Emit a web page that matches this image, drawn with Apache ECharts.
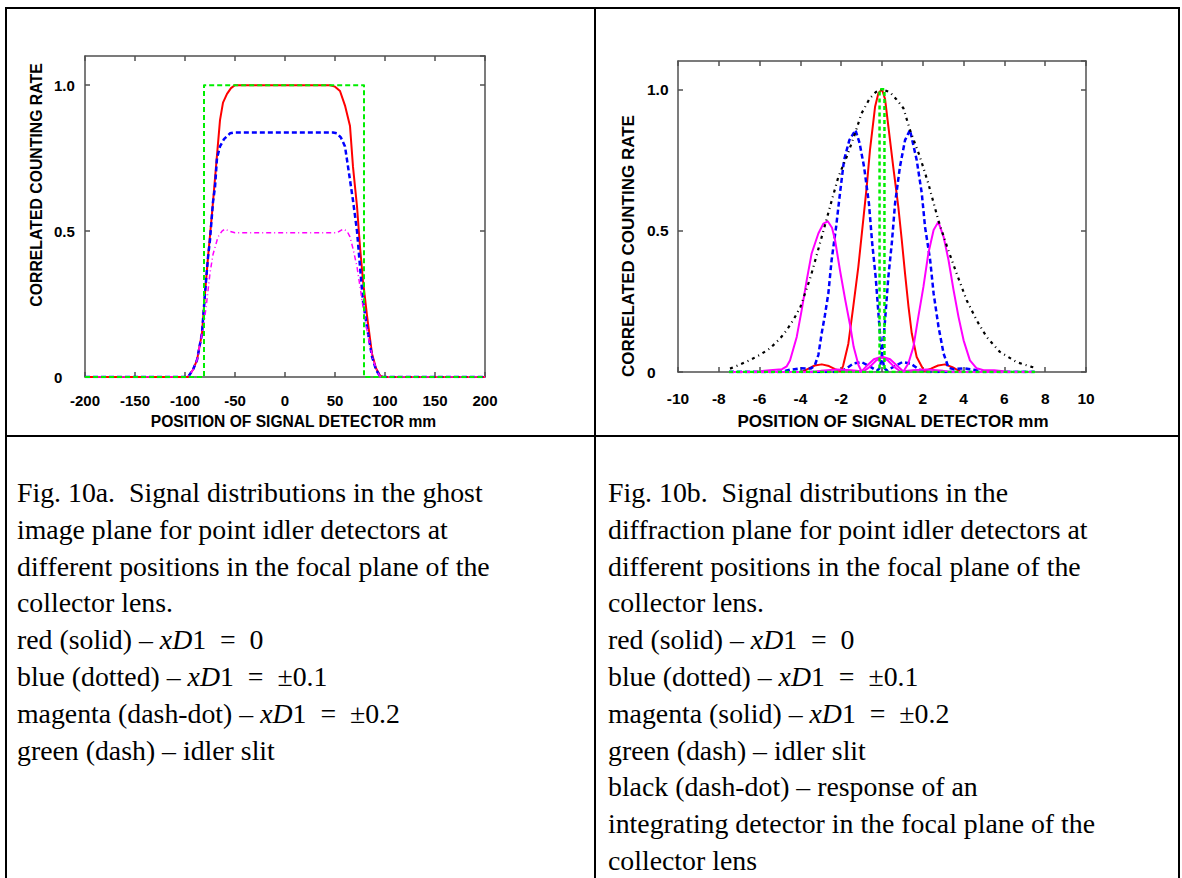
<!DOCTYPE html>
<html>
<head>
<meta charset="utf-8">
<script src="https://cdn.jsdelivr.net/npm/echarts@6/dist/echarts.min.js"></script>
<style>
  html, body { margin: 0; padding: 0; background: #fff; }
  #wrap { position: relative; width: 1182px; height: 878px; overflow: hidden; }
  #chart { position: absolute; left: 0; top: 0; width: 1182px; height: 878px; }
  .bl { position: absolute; background: #000; }
  .cap { position: absolute; top: 475px; font-family: "Liberation Serif", "Times New Roman", serif;
         font-size: 27.8px; line-height: 36.8px; color: #000; white-space: nowrap; }
  .cap i { font-style: italic; }
</style>
</head>
<body>
<div id="wrap">
  <div id="chart"></div>
  <div class="bl" style="left:5px; top:7px; width:2px; height:871px;"></div>
  <div class="bl" style="left:1178px; top:7px; width:2px; height:871px;"></div>
  <div class="bl" style="left:5px; top:7px; width:1175px; height:2px;"></div>
  <div class="bl" style="left:594px; top:7px; width:2px; height:871px;"></div>
  <div class="bl" style="left:5px; top:435px; width:1175px; height:2px;"></div>
  <div class="cap" id="capA" style="left:17px;"></div>
  <div class="cap" id="capB" style="left:608px;"></div>
</div>
<script>
// ---------------- DATA ----------------
// Fig. 10a (ghost image plane), x in mm
const leftXTicks = [-200, -150, -100, -50, 0, 50, 100, 150, 200];
const yTickValues = [0, 0.5, 1.0];
const yTickText = ['0', '0.5', '1.0'];

const leftRed = [[-200,0],[-97,0],[-92,0.025],[-88,0.058],[-83,0.15],[-80,0.287],[-77,0.41],[-73,0.56],[-69,0.72],[-65,0.88],[-62,0.94],[-58,0.97],[-54,0.99],[-50,1.0],[45,1.0],[50,0.995],[55,0.98],[60,0.93],[65,0.86],[68,0.72],[72,0.585],[75,0.446],[78,0.33],[82,0.21],[87,0.08],[91,0.03],[95,0.005],[98,0],[200,0]];
const leftBlue = [[-200,0],[-97,0],[-92,0.025],[-88,0.058],[-83,0.15],[-80,0.287],[-77,0.41],[-75,0.47],[-72,0.6],[-70,0.65],[-68,0.75],[-65,0.79],[-61,0.815],[-55,0.835],[-50,0.838],[48,0.838],[52,0.835],[56,0.82],[60,0.79],[65,0.675],[68,0.605],[72,0.5],[75,0.378],[78,0.26],[82,0.17],[87,0.07],[91,0.025],[95,0.003],[98,0],[200,0]];
const leftMagenta = [[-200,0],[-97,0],[-92,0.025],[-88,0.058],[-84,0.13],[-81,0.185],[-78,0.265],[-75,0.356],[-72,0.42],[-67,0.48],[-63,0.5],[-60,0.507],[-56,0.5],[-50,0.494],[52,0.494],[58,0.507],[62,0.5],[65,0.48],[68,0.44],[72,0.378],[75,0.31],[78,0.24],[83,0.14],[88,0.06],[92,0.02],[95,0.003],[98,0],[200,0]];
const leftGreen = [[-200,0],[-81,0],[-81,1.0],[79,1.0],[79,0],[200,0]];

// Fig. 10b (diffraction plane), x in mm
const rightXTicks = [-10, -8, -6, -4, -2, 0, 2, 4, 6, 8, 10];

const rightRed = [[-7.5,0],[-3.93,0],[-3.6,0.012],[-3.3,0.023],[-2.95,0.027],[-2.6,0.021],[-2.3,0.01],[-2.0,0.002],[-1.9,0.024],[-1.65,0.1],[-1.41,0.23],[-1.16,0.372],[-0.92,0.537],[-0.75,0.655],[-0.59,0.785],[-0.34,0.938],[-0.18,0.985],[0,1.0],[0.15,0.965],[0.31,0.87],[0.56,0.72],[0.8,0.584],[0.97,0.466],[1.13,0.348],[1.3,0.23],[1.46,0.136],[1.7,0.053],[1.96,0.018],[2.05,0.003],[2.4,0.012],[2.75,0.023],[3.09,0.027],[3.45,0.017],[3.82,0.002],[4.0,0],[7.5,0]];
const rightBlueA = [[-7.5,0],[-5.0,0],[-4.5,0.008],[-4.0,0.013],[-3.5,0.012],[-3.3,0.022],[-3.12,0.06],[-2.95,0.14],[-2.8,0.2],[-2.63,0.278],[-2.47,0.396],[-2.25,0.513],[-2.06,0.632],[-1.86,0.75],[-1.6,0.82],[-1.3,0.856],[-1.1,0.81],[-0.88,0.726],[-0.64,0.596],[-0.48,0.455],[-0.31,0.336],[-0.15,0.183],[-0.03,0.077],[0.1,0.015],[0.25,0.004],[0.6,0.02],[1.0,0.035],[1.4,0.03],[1.8,0.01],[2.1,0],[7.5,0]];
const rightBlueB = [[-7.5,0],[-2.1,0],[-1.8,0.01],[-1.4,0.03],[-1.0,0.035],[-0.6,0.02],[-0.25,0.004],[-0.1,0.015],[0.03,0.077],[0.15,0.183],[0.31,0.336],[0.48,0.455],[0.64,0.596],[0.88,0.726],[1.13,0.82],[1.37,0.856],[1.7,0.75],[1.95,0.632],[2.11,0.513],[2.36,0.396],[2.53,0.278],[2.77,0.16],[3.02,0.065],[3.26,0.015],[3.5,0.01],[4.0,0.013],[4.5,0.008],[5.0,0],[7.5,0]];
const rightMagentaA = [[-7.5,0],[-6.3,0],[-5.5,0.006],[-4.9,0.01],[-4.67,0.02],[-4.51,0.041],[-4.18,0.124],[-3.94,0.218],[-3.69,0.325],[-3.45,0.419],[-3.12,0.49],[-2.87,0.525],[-2.66,0.533],[-2.45,0.51],[-2.3,0.466],[-2.06,0.36],[-1.8,0.254],[-1.55,0.16],[-1.39,0.089],[-1.15,0.024],[-1.0,0.002],[-0.7,0.025],[-0.4,0.045],[-0.05,0.053],[0.3,0.04],[0.6,0.018],[0.9,0.002],[1.5,0.006],[2.2,0.009],[3.0,0.004],[3.5,0],[7.5,0]];
const rightMagentaB = [[-7.5,0],[-3.5,0],[-3.0,0.004],[-2.2,0.009],[-1.5,0.006],[-0.9,0.002],[-0.6,0.018],[-0.3,0.04],[0.05,0.053],[0.4,0.045],[0.7,0.025],[1.05,0.002],[1.29,0.03],[1.54,0.089],[1.78,0.195],[2.03,0.301],[2.27,0.419],[2.53,0.502],[2.76,0.531],[3.02,0.478],[3.26,0.396],[3.51,0.289],[3.75,0.195],[4.0,0.112],[4.31,0.041],[4.64,0.013],[4.98,0.006],[5.5,0.006],[6.3,0],[7.5,0]];
const rightBlack = [[-7.45,0.012],[-7.0,0.025],[-6.5,0.041],[-6.0,0.06],[-5.5,0.083],[-5.0,0.118],[-4.67,0.148],[-4.3,0.19],[-4.0,0.23],[-3.5,0.336],[-3.0,0.466],[-2.55,0.584],[-2.14,0.69],[-1.73,0.761],[-1.32,0.844],[-1.0,0.915],[-0.6,0.968],[-0.3,0.99],[0,1.0],[0.39,0.99],[0.7,0.965],[1.05,0.933],[1.37,0.856],[1.86,0.761],[2.27,0.667],[2.76,0.537],[3.19,0.443],[3.66,0.348],[4.15,0.254],[4.64,0.183],[5.13,0.124],[5.78,0.071],[6.6,0.035],[7.34,0.018],[7.5,0.015]];
const rightGreen = [[-7.5,0],[-0.12,0],[-0.12,1.0],[0.12,1.0],[0.12,0],[7.5,0]];

const yAxisTitle = 'CORRELATED COUNTING RATE';
const xAxisTitle = 'POSITION OF SIGNAL DETECTOR mm';

const captionA = [
  'Fig. 10a.&nbsp; Signal distributions in the ghost',
  'image plane for point idler detectors at',
  'different positions in the focal plane of the',
  'collector lens.',
  'red (solid) \u2013 <i>xD</i>1 &nbsp;= &nbsp;0',
  'blue (dotted) \u2013 <i>xD</i>1 &nbsp;= &nbsp;\u00b10.1',
  'magenta (dash-dot) \u2013 <i>xD</i>1 &nbsp;= &nbsp;\u00b10.2',
  'green (dash) \u2013 idler slit'
];
const captionB = [
  'Fig. 10b.&nbsp; Signal distributions in the',
  'diffraction plane for point idler detectors at',
  'different positions in the focal plane of the',
  'collector lens.',
  'red (solid) \u2013 <i>xD</i>1 &nbsp;= &nbsp;0',
  'blue (dotted) \u2013 <i>xD</i>1 &nbsp;= &nbsp;\u00b10.1',
  'magenta (solid) \u2013 <i>xD</i>1 &nbsp;= &nbsp;\u00b10.2',
  'green (dash) \u2013 idler slit',
  'black (dash-dot) \u2013 response of an',
  'integrating detector in the focal plane of the',
  'collector lens'
];
document.getElementById('capA').innerHTML = captionA.join('<br>');
document.getElementById('capB').innerHTML = captionB.join('<br>');

// ---------------- CHART ----------------
const AX = '#505050';
const FONT = '"Liberation Sans", Arial, sans-serif';

function yFmt(v) {
  const i = yTickValues.findIndex(t => Math.abs(t - v) < 1e-9);
  return i >= 0 ? yTickText[i] : '';
}

function xAxes(gi, min, max, interval, fs, margin) {
  const common = {
    gridIndex: gi, type: 'value', min: min, max: max, interval: interval,
    axisLine: { show: true, onZero: false, lineStyle: { color: AX, width: 1.5 } },
    axisTick: { show: true, inside: true, length: 5, lineStyle: { color: AX, width: 1.5 } },
    splitLine: { show: false }
  };
  return [
    Object.assign({}, common, { position: 'bottom',
      axisLabel: { show: true, margin: margin, fontFamily: FONT, fontWeight: 'bold', fontSize: fs, color: '#000',
                   showMinLabel: true, showMaxLabel: true } }),
    Object.assign({}, common, { position: 'top', axisLabel: { show: false } })
  ];
}
function yAxes(gi, fs) {
  const common = {
    gridIndex: gi, type: 'value', min: 0, max: 1.1, interval: 0.5,
    axisLine: { show: true, onZero: false, lineStyle: { color: AX, width: 1.5 } },
    axisTick: { show: true, inside: true, length: 5, lineStyle: { color: AX, width: 1.5 } },
    splitLine: { show: false }
  };
  return [
    Object.assign({}, common, { position: 'left',
      axisLabel: { show: true, align: 'left', margin: 31, formatter: yFmt, fontFamily: FONT,
                   fontWeight: 'bold', fontSize: fs, color: '#000', showMaxLabel: false } }),
    Object.assign({}, common, { position: 'right', axisLabel: { show: false } })
  ];
}

function line(name, data, xi, yi, color, width, type) {
  return {
    name: name, type: 'line', data: data, xAxisIndex: xi, yAxisIndex: yi,
    showSymbol: false, symbol: 'none', smooth: false, animation: false,
    lineStyle: { color: color, width: width, type: type || 'solid', cap: 'butt', join: 'round' },
    z: 2
  };
}

const chart = echarts.init(document.getElementById('chart'), null, { renderer: 'svg' });
chart.setOption({
  animation: false,
  backgroundColor: 'transparent',
  grid: [
    { left: 85, top: 56, width: 400, height: 321, containLabel: false },
    { left: 678, top: 61, width: 408, height: 311, containLabel: false }
  ],
  xAxis: [].concat(xAxes(0, -200, 200, 50, 15, 16), xAxes(1, -10, 10, 2, 15.5, 18)),
  yAxis: [].concat(yAxes(0, 15), yAxes(1, 15.5)),
  series: [
    line('red', leftRed, 0, 0, '#ff0000', 2),
    line('blue', leftBlue, 0, 0, '#0000ff', 2.5, [5, 3]),
    line('magenta', leftMagenta, 0, 0, '#ff00ff', 1.5, [5, 3, 1, 3]),
    line('green', leftGreen, 0, 0, '#00ee00', 2, [5, 3]),

    line('red', rightRed, 2, 2, '#ff0000', 2),
    line('blueA', rightBlueA, 2, 2, '#0000ff', 2.5, [5, 3]),
    line('blueB', rightBlueB, 2, 2, '#0000ff', 2.5, [5, 3]),
    line('magentaA', rightMagentaA, 2, 2, '#ff00ff', 2),
    line('magentaB', rightMagentaB, 2, 2, '#ff00ff', 2),
    line('black', rightBlack, 2, 2, '#000000', 2.2, [3, 4, 1, 4]),
    line('green', rightGreen, 2, 2, '#00ee00', 2.5, [4, 3])
  ],
  graphic: [
    { type: 'text', x: 36, y: 185, rotation: Math.PI / 2,
      style: { text: yAxisTitle, font: 'bold 15.8px ' + FONT, fill: '#000', align: 'center', verticalAlign: 'middle' } },
    { type: 'text', x: 293.5, y: 421.5,
      style: { text: xAxisTitle, font: 'bold 15.6px ' + FONT, fill: '#000', align: 'center', verticalAlign: 'middle' } },
    { type: 'text', x: 628, y: 246, rotation: Math.PI / 2,
      style: { text: yAxisTitle, font: 'bold 17px ' + FONT, fill: '#000', align: 'center', verticalAlign: 'middle' } },
    { type: 'text', x: 893, y: 421.7,
      style: { text: xAxisTitle, font: 'bold 17px ' + FONT, fill: '#000', align: 'center', verticalAlign: 'middle' } }
  ]
});
</script>
</body>
</html>
